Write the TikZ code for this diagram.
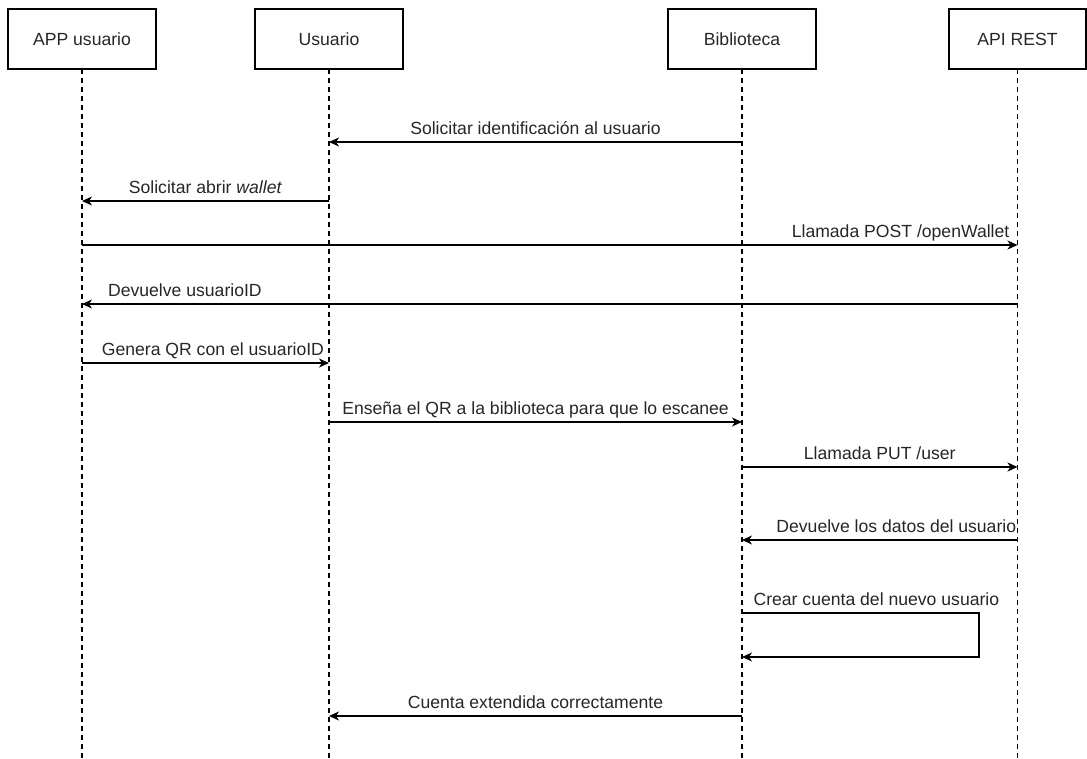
\documentclass[tikz,border=0pt]{standalone}
\usepackage{fontspec}
\setmainfont{Liberation Sans}
\usetikzlibrary{positioning,arrows.meta}

\begin{document}
\begin{tikzpicture}[
  x=1pt,y=-1pt,
  actor/.style={rectangle,draw,line width=1.2pt,minimum width=148pt,minimum height=60pt,
                outer sep=0pt,font=\fontsize{17.6}{20}\selectfont,text=black!85},
  lifeline/.style={line width=1.2pt,dash pattern=on 4.5pt off 4.5pt},
  msg/.style={-{Stealth[length=10pt,width=9pt,inset=3pt]},line width=1.2pt},
  lbl/.style={anchor=base,inner sep=0pt,yshift=8pt,font=\fontsize{17.6}{20}\selectfont,text=black!85}
]
\useasboundingbox (0,0) rectangle (1087,758);

% participants
\node[actor] (app) at (82,39) {APP usuario};
\node[actor,right=99pt of app] (usr) {Usuario};
\node[actor,right=265pt of usr] (bib) {Biblioteca};
\node[actor,minimum width=137pt,right=133pt of bib] (api) {API REST};

% lifelines
\coordinate (bottom) at (0,758);
\foreach \p in {app,usr,bib,api}
  \draw[lifeline] (\p.south) -- (\p.south |- bottom);

% message rows
\foreach \r/\y in {r1/142,r2/201,r3/245,r4/304,r5/363,r6/422,r7/467,r8/540,r9/613,r9b/657,r10/716}
  \coordinate (\r) at (0,\y);
\coordinate (loopx) at (979,0);

\draw[msg] (bib |- r1) -- (usr |- r1) node[lbl,midway] {Solicitar identificación al usuario};
\draw[msg] (usr |- r2) -- (app |- r2) node[lbl,midway] {Solicitar abrir \textit{wallet}};
\draw[msg] (app |- r3) -- (api |- r3) node[lbl,pos=0.875] {Llamada POST /openWallet};
\draw[msg] (api |- r4) -- (app |- r4) node[lbl,pos=0.89] {Devuelve usuarioID};
\draw[msg] (app |- r5) -- (usr |- r5) node[lbl,pos=0.53] {Genera QR con el usuarioID};
\draw[msg] (usr |- r6) -- (bib |- r6) node[lbl,midway] {Enseña el QR a la biblioteca para que lo escanee};
\draw[msg] (bib |- r7) -- (api |- r7) node[lbl,midway] {Llamada PUT /user};
\draw[msg] (api |- r8) -- (bib |- r8) node[lbl,pos=0.44] {Devuelve los datos del usuario};
\draw[msg] (bib |- r9) node[lbl,anchor=base west,xshift=11pt] {Crear cuenta del nuevo usuario}
  -- (loopx |- r9) -- (loopx |- r9b) -- (bib |- r9b);
\draw[msg] (bib |- r10) -- (usr |- r10) node[lbl,midway] {Cuenta extendida correctamente};
\end{tikzpicture}
\end{document}
